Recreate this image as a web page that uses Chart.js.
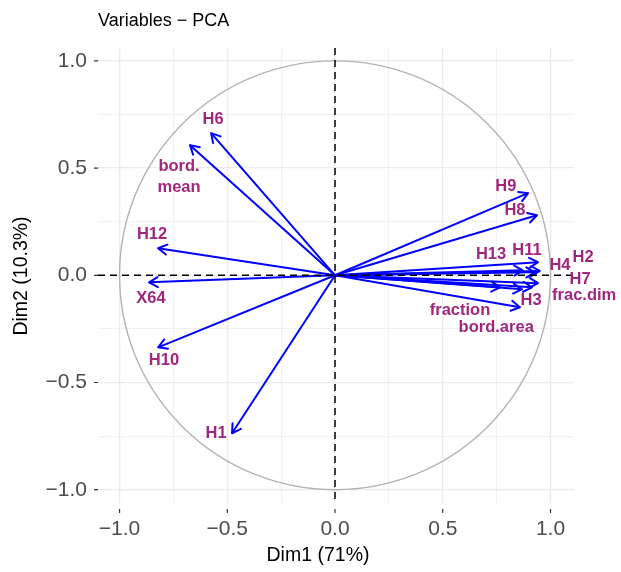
<!DOCTYPE html>
<html>
<head>
<meta charset="utf-8">
<script src="https://cdn.jsdelivr.net/npm/chart.js@4.4.1/dist/chart.umd.min.js"></script>
<style>
  html, body { margin: 0; padding: 0; background: #ffffff; }
  #wrap { width: 621px; height: 572px; }
</style>
</head>
<body>
<div id="wrap"><canvas id="c" width="621" height="572"></canvas></div>
<script>
// ---- data ----
const variables = ['H6', 'bord.\nmean', 'H12', 'X64', 'H10', 'H1', 'H9', 'H8', 'H11', 'H13', 'H4', 'H2', 'H7', 'frac.dim', 'H3', 'fraction', 'bord.area'];
const dim1 = [-0.575, -0.673, -0.821, -0.863, -0.821, -0.478, 0.896, 0.937, 0.942, 0.872, 0.928, 0.950, 0.942, 0.914, 0.858, 0.766, 0.868];
const dim2 = [0.663, 0.607, 0.126, -0.033, -0.336, -0.737, 0.383, 0.280, 0.061, 0.023, 0.014, 0.020, -0.037, -0.056, -0.149, -0.056, -0.065];
// label anchor positions (repelled text placement), in data units
const labelX = [-0.566, -0.724, -0.849, -0.854, -0.794, -0.552, 0.793, 0.835, 0.891, 0.724, 1.044, 1.151, 1.137, 1.156, 0.910, 0.580, 0.748];
const labelY = [0.728, 0.457, 0.191, -0.107, -0.399, -0.737, 0.415, 0.303, 0.117, 0.098, 0.047, 0.084, -0.019, -0.093, -0.117, -0.163, -0.243];
const tickValues = [-1.0, -0.75, -0.5, -0.25, 0.0, 0.25, 0.5, 0.75, 1.0];
const majorTicks = [-1.0, -0.5, 0.0, 0.5, 1.0];
const chartTitle = 'Variables \u2212 PCA';
const xTitle = 'Dim1 (71%)';
const yTitle = 'Dim2 (10.3%)';

// ---- styles ----
const ARROW = '#0000FF';
const LABEL = '#A1267E';
const GRID = '#EBEBEB';
const TICKTXT = '#4D4D4D';
const FONT = '"Liberation Sans", Arial, sans-serif';

const isMajor = v => majorTicks.some(m => Math.abs(m - v) < 1e-9);
const fmt = v => (v < 0 ? '\u2212' : '') + Math.abs(v).toFixed(1);

const datasets = variables.map((name, i) => ({
  label: name,
  data: [{ x: 0, y: 0 }, { x: dim1[i], y: dim2[i] }],
  showLine: true,
  borderColor: ARROW,
  borderWidth: 2,
  pointRadius: 0,
  fill: false
}));

const decor = {
  id: 'decor',
  beforeDatasetsDraw(chart) {
    const { ctx, scales: { x, y } } = chart;
    const cx = x.getPixelForValue(0), cy = y.getPixelForValue(0);
    const rx = x.getPixelForValue(1) - cx, ry = cy - y.getPixelForValue(1);
    ctx.save();
    ctx.strokeStyle = '#B3B3B3';
    ctx.lineWidth = 1.4;
    ctx.beginPath();
    ctx.ellipse(cx, cy, rx, ry, 0, 0, Math.PI * 2);
    ctx.stroke();
    ctx.restore();
  },
  afterDatasetsDraw(chart) {
    const { ctx, chartArea: a, scales: { x, y } } = chart;
    ctx.save();
    chart.data.datasets.forEach((ds, i) => {
      const meta = chart.getDatasetMeta(i);
      const p0 = meta.data[0], p1 = meta.data[1];
      const ang = Math.atan2(p1.y - p0.y, p1.x - p0.x);
      const L = 10, h = Math.PI / 6;
      ctx.strokeStyle = ARROW;
      ctx.lineWidth = 2;
      ctx.lineCap = 'round';
      ctx.lineJoin = 'round';
      ctx.beginPath();
      ctx.moveTo(p1.x - L * Math.cos(ang - h), p1.y - L * Math.sin(ang - h));
      ctx.lineTo(p1.x, p1.y);
      ctx.lineTo(p1.x - L * Math.cos(ang + h), p1.y - L * Math.sin(ang + h));
      ctx.stroke();
    });
    const x0 = x.getPixelForValue(0), y0 = y.getPixelForValue(0);
    ctx.strokeStyle = '#000000';
    ctx.lineWidth = 1.5;
    ctx.lineCap = 'butt';
    ctx.setLineDash([7, 5]);
    ctx.beginPath();
    ctx.moveTo(a.left, y0); ctx.lineTo(a.right, y0);
    ctx.moveTo(x0, a.top); ctx.lineTo(x0, a.bottom);
    ctx.stroke();
    ctx.setLineDash([]);
    ctx.fillStyle = LABEL;
    ctx.font = 'bold 16.5px ' + FONT;
    ctx.textAlign = 'center';
    ctx.textBaseline = 'middle';
    variables.forEach((name, i) => {
      const lx = x.getPixelForValue(labelX[i]);
      const ly = y.getPixelForValue(labelY[i]);
      const lines = name.split('\n');
      const lh = 21;
      lines.forEach((ln, k) => {
        ctx.fillText(ln, lx, ly + (k - (lines.length - 1) / 2) * lh);
      });
    });
    ctx.restore();
  },
  afterDraw(chart) {
    const { ctx, chartArea: a, scales: { x, y } } = chart;
    ctx.save();
    ctx.strokeStyle = '#333333';
    ctx.lineWidth = 1.2;
    ctx.beginPath();
    majorTicks.forEach(v => {
      const px = x.getPixelForValue(v);
      ctx.moveTo(px, a.bottom + 6); ctx.lineTo(px, a.bottom + 10);
      const py = y.getPixelForValue(v);
      ctx.moveTo(a.left - 4, py); ctx.lineTo(a.left, py);
    });
    ctx.stroke();
    ctx.fillStyle = '#000000';
    ctx.font = '18px ' + FONT;
    ctx.textAlign = 'left';
    ctx.textBaseline = 'middle';
    ctx.fillText(chartTitle, 98, 21);
    ctx.textAlign = 'center';
    ctx.font = '19.5px ' + FONT;
    ctx.fillText(xTitle, 318, 556);
    ctx.translate(22, 276);
    ctx.rotate(-Math.PI / 2);
    ctx.fillText(yTitle, 0, 0);
    ctx.restore();
  }
};

const gridOpts = {
  color: GRID,
  lineWidth: c => (c.tick && isMajor(c.tick.value)) ? 1.3 : 0.7,
  drawTicks: false
};

new Chart(document.getElementById('c'), {
  type: 'scatter',
  data: { datasets },
  options: {
    responsive: false,
    animation: false,
    devicePixelRatio: 1,
    layout: { padding: { top: 48, right: 47, left: 0, bottom: 0 } },
    plugins: { legend: { display: false }, tooltip: { enabled: false }, title: { display: false } },
    scales: {
      x: {
        type: 'linear', min: -1.1, max: 1.109,
        afterBuildTicks: s => { s.ticks = tickValues.map(v => ({ value: v })); },
        afterFit: s => { s.height = 69; },
        grid: gridOpts,
        border: { display: false },
        ticks: {
          autoSkip: false, maxRotation: 0, padding: 14,
          color: TICKTXT, font: { family: FONT, size: 21 },
          callback: v => isMajor(v) ? fmt(v) : ''
        }
      },
      y: {
        type: 'linear', min: -1.062, max: 1.06,
        afterBuildTicks: s => { s.ticks = tickValues.map(v => ({ value: v })); },
        afterFit: s => { s.width = 98; },
        grid: gridOpts,
        border: { display: false },
        ticks: {
          autoSkip: false, padding: 11,
          color: TICKTXT, font: { family: FONT, size: 21 },
          callback: v => isMajor(v) ? fmt(v) : ''
        }
      }
    }
  },
  plugins: [decor]
});
</script>
</body>
</html>
